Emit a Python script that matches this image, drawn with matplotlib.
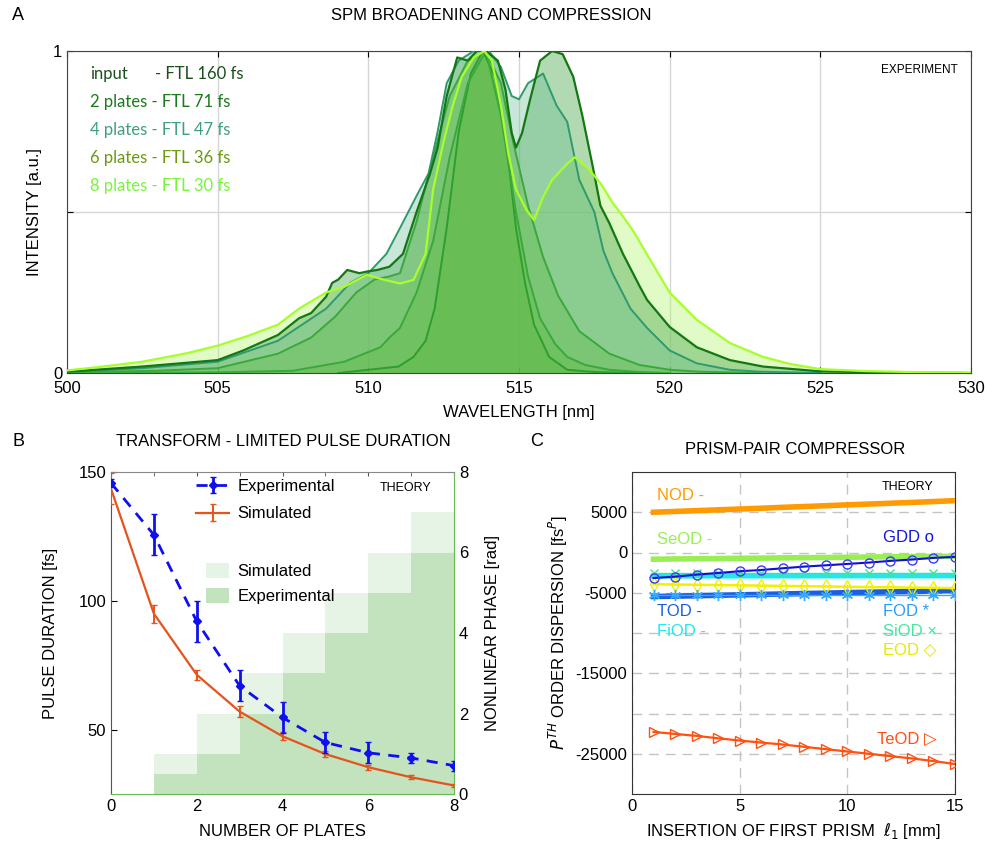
import matplotlib
matplotlib.use('Agg')
import matplotlib.pyplot as plt
from matplotlib.patches import Patch

plt.rcParams['font.family'] = ['Liberation Sans', 'DejaVu Sans']
plt.rcParams['font.size'] = 12

# ---------------- Panel A data ----------------
wl_lime = [500, 501, 502.5, 504, 505, 506, 507, 507.7, 508.6, 509.2, 509.95, 510.5, 511.05, 511.5, 511.9,
           512.15, 512.5, 512.8, 513.1, 513.5, 513.85, 514.1, 514.4, 514.65, 514.9, 515.25, 515.5, 515.8,
           516.1, 516.6, 516.85, 517.25, 517.7, 518.1, 518.5, 518.8, 519.3, 520.0, 520.9, 522.0, 523.1,
           524.0, 525.0, 526.5, 528.0, 530.0]
int_lime = [0.008, 0.018, 0.035, 0.062, 0.085, 0.115, 0.15, 0.2, 0.25, 0.268, 0.305, 0.29, 0.278, 0.289, 0.37,
            0.57, 0.72, 0.83, 0.92, 0.98, 1.0, 0.97, 0.83, 0.68, 0.57, 0.506, 0.475, 0.547,
            0.6, 0.65, 0.67, 0.64, 0.59, 0.53, 0.48, 0.44, 0.36, 0.25, 0.165, 0.093, 0.05,
            0.028, 0.012, 0.006, 0.003, 0.001]

wl_dark = [500, 502.5, 505, 505.85, 507, 507.7, 508.1, 508.6, 508.8, 509.0, 509.3, 509.7, 509.95, 510.3,
           510.7, 511.15, 511.6, 512.05, 512.3, 512.6, 512.95, 513.3, 513.6, 513.9, 514.3, 514.55, 514.76,
           514.9, 515.1, 515.37, 515.7, 516.1, 516.45, 516.8, 517.1, 517.45, 517.7, 518.0, 518.45, 519.0,
           519.25, 520.0, 520.9, 522.0, 523.1, 525.0, 527.0, 530.0]
int_dark = [0.004, 0.02, 0.04, 0.07, 0.118, 0.17, 0.186, 0.237, 0.28, 0.29, 0.32, 0.31, 0.315, 0.32,
            0.33, 0.37, 0.5, 0.62, 0.70, 0.86, 0.98, 0.97, 1.0, 1.0, 0.97, 0.88, 0.745,
            0.70, 0.745, 0.85, 0.97, 1.0, 0.99, 0.92, 0.8, 0.64, 0.52, 0.465, 0.37, 0.27,
            0.227, 0.143, 0.08, 0.04, 0.02, 0.005, 0.002, 0.0]

wl_teal = [500, 502.5, 505, 507, 508.6, 509.4, 510.0, 510.6, 511.05, 511.6, 512.0, 512.3, 512.6, 513.0,
           513.5, 514.0, 514.4, 514.76, 515.0, 515.3, 515.8, 516.25, 516.6, 517.0, 517.5, 517.8, 518.1,
           518.7, 519.25, 520.0, 520.9, 522.0, 523.0, 525.0]
int_teal = [0.003, 0.015, 0.035, 0.1, 0.2, 0.28, 0.31, 0.37, 0.45, 0.55, 0.62, 0.75, 0.9, 0.97,
            1.0, 1.0, 0.95, 0.86, 0.85, 0.9, 0.93, 0.83, 0.78, 0.6, 0.5, 0.38, 0.31,
            0.2, 0.14, 0.07, 0.03, 0.01, 0.004, 0.0]

wl_a = [500, 503, 505, 507, 508.1, 508.9, 509.6, 510.2, 510.7, 511.05, 511.6, 512.15, 512.7, 513.3, 513.9,
        514.4, 514.8, 515.3, 515.8, 516.3, 517.0, 518.0, 519.0, 520.0, 521.0, 523.0]
int_a = [0.002, 0.007, 0.015, 0.06, 0.11, 0.175, 0.25, 0.29, 0.30, 0.31, 0.47, 0.67, 0.86, 0.97, 1.0,
         0.9, 0.72, 0.52, 0.36, 0.24, 0.13, 0.06, 0.025, 0.01, 0.004, 0.0]

wl_b = [500, 505, 507.5, 509.2, 510.4, 510.7, 511.05, 511.6, 512.15, 512.7, 513.3, 513.9, 514.4, 514.9,
        515.3, 515.7, 516.2, 516.6, 517.2, 518.0, 519.0, 520.0]
int_b = [0.0, 0.002, 0.007, 0.035, 0.08, 0.11, 0.14, 0.25, 0.41, 0.67, 0.9, 1.0, 0.8, 0.5,
         0.3, 0.17, 0.09, 0.05, 0.025, 0.01, 0.003, 0.0]

wl_in = [509, 510, 511.0, 511.5, 511.9, 512.2, 512.6, 513.0, 513.4, 513.8, 514.2, 514.6, 514.9, 515.2,
         515.5, 516.0, 516.6, 517.5, 519.0]
int_in = [0.0, 0.01, 0.02, 0.05, 0.1, 0.2, 0.45, 0.75, 0.93, 1.0, 0.92, 0.7, 0.45, 0.28,
          0.15, 0.05, 0.01, 0.003, 0.0]

legend_labels = ["2 plates - FTL 71 fs", "4 plates - FTL 47 fs", "6 plates - FTL 36 fs", "8 plates - FTL 30 fs"]
legend_colors = ['#1b7a1b', '#3f9f80', '#6a9a10', '#77f53a']

# ---------------- Panel B data ----------------
plates = [0, 1, 2, 3, 4, 5, 6, 7, 8]
exp_dur = [145.7, 125.6, 92, 67, 54.7, 45, 41, 39, 36]
exp_err = [1.5, 8, 8, 6, 6, 4, 4, 2, 2]
sim_dur = [143.5, 95, 71.3, 57, 47.4, 40.5, 35.4, 31.5, 28.3]
sim_err = [6, 3.5, 2, 2, 1.5, 1.2, 1, 0.8, 0.5]
phase_plates = [1, 2, 3, 4, 5, 6, 7]
sim_phase = [1, 2, 3, 4, 5, 6, 7]
exp_phase = [0.5, 1, 2, 3, 4, 5, 6]

# ---------------- Panel C data ----------------
insertion = [1, 2, 3, 4, 5, 6, 7, 8, 9, 10, 11, 12, 13, 14, 15]
nod = [5000, 5100, 5200, 5300, 5400, 5500, 5610, 5710, 5810, 5920, 6020, 6120, 6220, 6330, 6440]
seod = [-830, -800, -780, -750, -720, -700, -670, -640, -620, -590, -560, -540, -510, -490, -460]
gdd = [-3170, -3000, -2750, -2540, -2330, -2170, -1960, -1750, -1590, -1420, -1250, -1040, -875, -670, -540]
siod = [-2590, -2590, -2590, -2590, -2590, -2590, -2590, -2590, -2590, -2590, -2590, -2590, -2590, -2590, -2590]
fiod = [-2900, -2900, -2895, -2895, -2890, -2890, -2890, -2885, -2885, -2885, -2880, -2880, -2880, -2880, -2880]
eod = [-3940, -3975, -4010, -4045, -4080, -4115, -4150, -4185, -4220, -4255, -4290, -4325, -4360, -4395, -4430]
fod = [-5260, -5260, -5260, -5260, -5260, -5260, -5260, -5260, -5260, -5260, -5260, -5260, -5260, -5260, -5260]
tod = [-5470, -5420, -5370, -5310, -5260, -5210, -5150, -5100, -5050, -4990, -4940, -4890, -4840, -4780, -4730]
teod = [-22290, -22540, -22780, -23080, -23360, -23610, -23850, -24140, -24430, -24720, -25000, -25300,
        -25580, -25910, -26280]

W, H = 985, 844
fig = plt.figure(figsize=(W / 100, H / 100), dpi=100)


def rect(l, t, r, b):
    return [l / W, 1 - b / H, (r - l) / W, (b - t) / H]


# =============== Panel A =================
axA = fig.add_axes(rect(67, 51, 971, 373))
fill_specs = [
    (wl_lime, int_lime, '#b6f775', 0.40, '#a6ff2a', 1.6),
    (wl_dark, int_dark, '#54ad54', 0.45, '#137713', 1.6),
    (wl_teal, int_teal, '#62bd90', 0.35, '#2f9a6e', 1.4),
    (wl_a, int_a, '#5ab93c', 0.33, '#3aa83a', 1.4),
    (wl_b, int_b, '#5ab93c', 0.33, '#3aa83a', 1.4),
    (wl_in, int_in, '#5ab93c', 0.33, '#2e9e2e', 1.4),
]
for wl, it, fc, al, lc, lw in fill_specs:
    axA.fill_between(wl, 0, it, color=fc, alpha=al, lw=0, zorder=2)
for wl, it, fc, al, lc, lw in reversed(fill_specs):
    axA.plot(wl, it, color=lc, lw=lw, zorder=3)
axA.set_xlim(500, 530)
axA.set_ylim(0, 1)
axA.set_xticks([500, 505, 510, 515, 520, 525, 530])
axA.set_yticks([0, 0.5, 1])
axA.set_yticklabels(['0', '', '1'])
axA.grid(True, color='#d6d6d6', lw=1, zorder=1)
axA.set_axisbelow(True)
axA.tick_params(direction='in', top=True, right=True, length=4, labelsize=12)
axA.tick_params(axis='x', pad=6)
for s in axA.spines.values():
    s.set_color('#444444')
axA.set_xlabel('WAVELENGTH [nm]', fontsize=12, labelpad=6)
axA.set_ylabel('INTENSITY [a.u.]', fontsize=12, labelpad=8)
axA.text((90 - 67) / 904, (373 - 74) / 322, 'input', color='#1d4f1d', fontsize=12, family='Lato',
         transform=axA.transAxes, va='center')
axA.text((155 - 67) / 904, (373 - 74) / 322, '- FTL 160 fs', color='#1d4f1d', fontsize=12, family='Lato',
         transform=axA.transAxes, va='center')
for i, (lab, col) in enumerate(zip(legend_labels, legend_colors)):
    axA.text((90 - 67) / 904, (373 - 102 - 28 * i) / 322, lab, color=col, fontsize=12, family='Lato',
             transform=axA.transAxes, va='center')
axA.text(0.985, 0.94, 'EXPERIMENT', transform=axA.transAxes, ha='right', va='center', fontsize=8.5)
fig.text(18 / W, 1 - 16 / H, 'A', fontsize=13, ha='center', va='center')
fig.text(491 / W, 1 - 16 / H, 'SPM BROADENING AND COMPRESSION', fontsize=12, ha='center', va='center')

# =============== Panel B =================
green_sp = '#66bb55'
axP = fig.add_axes(rect(111, 472, 454, 794))
axD = axP.twinx()
axP.bar(phase_plates, sim_phase, width=1, align='edge', color='#e6f4e6', lw=0, zorder=1)
axP.bar(phase_plates, exp_phase, width=1, align='edge', color='#c3e2be', lw=0, zorder=2)
axP.set_xlim(0, 8)
axP.set_ylim(0, 8)
axP.set_xticks([0, 2, 4, 6, 8])
axP.set_xticks(range(0, 9), minor=True)
axP.set_yticks([0, 2, 4, 6, 8])
axP.yaxis.tick_right()
axP.yaxis.set_label_position('right')
axP.tick_params(axis='y', direction='in', color=green_sp, labelcolor='black', length=4, labelsize=12)
axP.tick_params(axis='x', which='both', direction='in', top=True, length=3, color='#555555', labelsize=12)
axP.set_ylabel('NONLINEAR PHASE [rad]', fontsize=12, labelpad=12)
axP.set_xlabel('NUMBER OF PLATES', fontsize=12, labelpad=7)
for s in axP.spines.values():
    s.set_visible(False)

axD.yaxis.tick_left()
axD.yaxis.set_label_position('left')
e1 = axD.errorbar(plates, exp_dur, yerr=exp_err, color='#1010ee', lw=2, ls=(0, (4, 3)), marker='D', ms=4,
                  capsize=2, elinewidth=2, label='Experimental', zorder=4)
e2 = axD.errorbar(plates, sim_dur, yerr=sim_err, color='#e4541c', lw=1.6, capsize=2, elinewidth=1.4,
                  label='Simulated', zorder=3)
axD.set_ylim(25, 150)
axD.set_yticks([50, 100, 150])
axD.tick_params(axis='y', direction='in', length=4, labelsize=12)
axD.set_ylabel('PULSE DURATION [fs]', fontsize=12, labelpad=15)
axD.spines['left'].set_color('#555555')
axD.spines['top'].set_color('#888888')
axD.spines['right'].set_color(green_sp)
axD.spines['bottom'].set_color(green_sp)
leg1 = axD.legend([e1, e2], ['Experimental', 'Simulated'], loc='upper left',
                  bbox_to_anchor=((196 - 111) / 343, (794 - 479) / 322), frameon=False, fontsize=12,
                  handlelength=2.0, handletextpad=0.5, labelspacing=0.75, borderpad=0, borderaxespad=0)
axD.add_artist(leg1)
p1 = Patch(color='#e6f4e6', lw=0)
p2 = Patch(color='#c3e2be', lw=0)
axD.legend([p1, p2], ['Simulated', 'Experimental'], loc='upper left',
           bbox_to_anchor=((206 - 111) / 343, (794 - 563) / 322), frameon=False, fontsize=12,
           handlelength=1.35, handleheight=1.0, handletextpad=0.55, labelspacing=0.55, borderpad=0,
           borderaxespad=0)
axD.text(0.935, 0.95, 'THEORY', transform=axD.transAxes, ha='right', va='center', fontsize=9)
fig.text(18 / W, 1 - 441 / H, 'B', fontsize=13, ha='center', va='center')
fig.text(283 / W, 1 - 441 / H, 'TRANSFORM - LIMITED PULSE DURATION', fontsize=12, ha='center', va='center')

# =============== Panel C =================
axC = fig.add_axes(rect(632, 472, 955, 794))
axC.plot(insertion, nod, color='#ff9a00', lw=4, zorder=3)
axC.plot(insertion, seod, color='#99ee55', lw=4, zorder=3)
axC.plot(insertion, fiod, color='#22e8ee', lw=4, zorder=3)
axC.plot(insertion, siod, color='#44e0a0', lw=1, marker='x', ms=6, mew=1, zorder=4)
axC.plot(insertion, gdd, color='#1010cc', lw=1.5, marker='o', ms=6.5, mfc='none', mec='#3a3aff', mew=1,
         zorder=5)
axC.plot(insertion, eod, color='#f2f000', lw=1.8, marker='d', ms=7, mfc='none', mec='#f2f000', mew=1, zorder=4)
axC.plot(insertion, tod, color='#1a5fe0', lw=4, zorder=3)
axC.plot(insertion, fod, color='#33aaff', lw=1, marker=(6, 2, 0), ms=8, mew=1, zorder=4)
axC.plot(insertion, teod, color='#ff5010', lw=1.6, marker='>', ms=6.5, mfc='none', mec='#ff5010', mew=1,
         zorder=4)
axC.set_xlim(0, 15)
axC.set_ylim(-30000, 10000)
axC.set_xticks([0, 5, 10, 15])
axC.set_yticks([5000, 0, -5000, -10000, -15000, -20000, -25000])
axC.set_yticklabels(['5000', '0', '-5000', '', '-15000', '', '-25000'])
axC.grid(True, color='#c4c4c4', lw=1, ls=(0, (7, 5)), zorder=1)
axC.set_axisbelow(True)
axC.tick_params(direction='in', length=0, labelsize=12)
for s in axC.spines.values():
    s.set_color('#333333')
axC.set_xlabel(r'INSERTION OF FIRST PRISM  $\ell_1$ [mm]', fontsize=12, labelpad=5)
axC.set_ylabel(r'$P^{TH}$ ORDER DISPERSION [fs$^{P}$]', fontsize=12, labelpad=4)
fam = ['Liberation Sans', 'DejaVu Sans']
ct = lambda x, y, s, c: axC.text(x, y, s, color=c, fontsize=12, family=fam, va='center',
                                 transform=axC.transAxes)
ct((657 - 632) / 323, (794 - 495) / 322, 'NOD -', '#ff9a00')
ct((657 - 632) / 323, (794 - 540) / 322, 'SeOD -', '#99ee55')
ct((657 - 632) / 323, (794 - 611) / 322, 'TOD -', '#1a5fe0')
ct((657 - 632) / 323, (794 - 632) / 322, 'FiOD -', '#22e8ee')
ct((883 - 632) / 323, (794 - 538) / 322, 'GDD o', '#1515dd')
ct((883 - 632) / 323, (794 - 611) / 322, 'FOD *', '#2a9df4')
ct((883 - 632) / 323, (794 - 631) / 322, 'SiOD \u00d7', '#44e8a0')
ct((883 - 632) / 323, (794 - 650) / 322, 'EOD \u25c7', '#e8e800')
ct((877 - 632) / 323, (794 - 739) / 322, 'TeOD \u25b7', '#ff5010')
axC.text((933 - 632) / 323, (794 - 487) / 322, 'THEORY', transform=axC.transAxes, ha='right', va='center',
         fontsize=9)
fig.text(537 / W, 1 - 441 / H, 'C', fontsize=13, ha='center', va='center')
fig.text(795 / W, 1 - 449 / H, 'PRISM-PAIR COMPRESSOR', fontsize=12, ha='center', va='center')

fig.savefig('out.png', dpi=100)
